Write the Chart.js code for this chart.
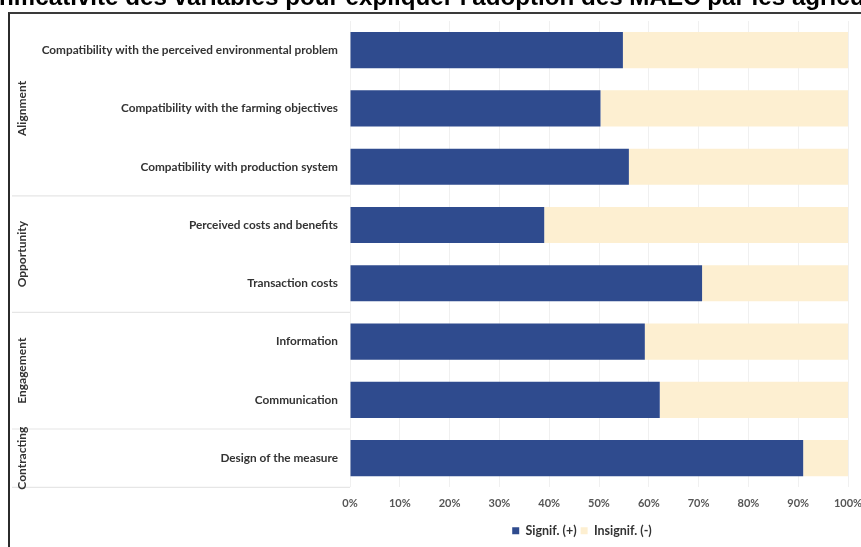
<!DOCTYPE html>
<html>
<head>
<meta charset="utf-8">
<script src="https://cdn.jsdelivr.net/npm/chart.js@4.4.0/dist/chart.umd.min.js"></script>
<style>
  html, body { margin: 0; padding: 0; background: #fff; overflow: hidden; }
  #wrap { position: relative; width: 861px; height: 547px; overflow: hidden; }
  #chart { position: absolute; left: 0; top: 0; }
  #frame { position: absolute; left: 8px; top: 12px; width: 900px; height: 600px;
           border-left: 2px solid #2b2b2b; border-top: 2px solid #3a3a3a; }
  #title { position: absolute; top: 0; white-space: nowrap; font-family: "Liberation Sans", Arial, sans-serif;
           font-weight: bold; color: #000; line-height: 1; }
</style>
</head>
<body>
<div id="wrap">
  <div id="frame"></div>
  <canvas id="chart" width="861" height="547"></canvas>
  <div id="title">Significativité des variables pour expliquer l'adoption des MAEC par les agriculteurs</div>
</div>
<script>
  // data
  var categories = [
    "Compatibility with the perceived environmental problem",
    "Compatibility with the farming objectives",
    "Compatibility with production system",
    "Perceived costs and benefits",
    "Transaction costs",
    "Information",
    "Communication",
    "Design of the measure"
  ];
  var signif = [54.8, 50.3, 56, 39, 70.7, 59.2, 62.2, 91];
  var insignif = [45.2, 49.7, 44, 61, 29.3, 40.8, 37.8, 9];
  var xTicks = [0, 10, 20, 30, 40, 50, 60, 70, 80, 90, 100];

  var groupNames = ["Alignment", "Opportunity", "Engagement", "Contracting"];
  var groupFirst = [0, 3, 5, 7];
  var groupLast = [2, 4, 6, 7];

  var NAVY = "#2f4b8e";
  var BEIGE = "#fdefd1";
  var LABEL_FONT = "Lato";

  // title: clipped on both sides like the screenshot
  var title = document.getElementById("title");
  (function () {
    var c = document.createElement("canvas").getContext("2d");
    c.font = 'bold 20px "Liberation Sans"';
    var visible = c.measureText("nificativité des variables pour expliquer l'adoption des MAEC par les agricu").width;
    var size = 20 * 866 / visible;
    c.font = 'bold ' + size + 'px "Liberation Sans"';
    title.style.fontSize = size + "px";
    title.style.left = (-c.measureText("Sig").width - 1) + "px";
    title.style.top = (6.5 - size * 0.9) + "px";
  })();

  var groupPlugin = {
    id: "groups",
    afterLayout: function (chart) {
      // legend sits under the bars, not under the whole figure
      var lg = chart.legend;
      lg.left = chart.chartArea.left - 34;
      lg.right = chart.chartArea.right;
    },
    afterDraw: function (chart) {
      var ctx = chart.ctx;
      var y = chart.scales.y;
      var half = (y.getPixelForValue(1) - y.getPixelForValue(0)) / 2;
      ctx.save();
      for (var i = 0; i < groupNames.length; i++) {
        var top = y.getPixelForValue(groupFirst[i]) - half;
        var bottom = y.getPixelForValue(groupLast[i]) + half;
        ctx.strokeStyle = "#e6e6e6";
        ctx.lineWidth = 1.2;
        ctx.beginPath();
        ctx.moveTo(12, bottom);
        ctx.lineTo(chart.chartArea.left, bottom);
        ctx.stroke();
        ctx.save();
        ctx.translate(22, (top + bottom) / 2);
        ctx.rotate(-Math.PI / 2);
        ctx.fillStyle = "#333";
        ctx.font = "bold 12px " + LABEL_FONT;
        ctx.textAlign = "center";
        ctx.textBaseline = "middle";
        ctx.fillText(groupNames[i], 0, 0);
        ctx.restore();
      }
      ctx.restore();
    }
  };

  var chart = new Chart(document.getElementById("chart").getContext("2d"), {
    type: "bar",
    data: {
      labels: categories,
      datasets: [
        {
          label: "Signif. (+)",
          data: signif,
          backgroundColor: NAVY,
          borderWidth: 0,
          barPercentage: 0.62,
          categoryPercentage: 1
        },
        {
          label: "Insignif. (-)",
          data: insignif,
          backgroundColor: BEIGE,
          borderWidth: 0,
          barPercentage: 0.62,
          categoryPercentage: 1
        }
      ]
    },
    options: {
      indexAxis: "y",
      responsive: false,
      animation: false,
      layout: { padding: { top: 21, right: 13, bottom: 0, left: 0 } },
      plugins: {
        title: { display: false },
        tooltip: { enabled: false },
        legend: {
          position: "bottom",
          labels: {
            boxWidth: 7,
            boxHeight: 7,
            padding: 4,
            color: "#333",
            font: { family: LABEL_FONT, weight: "bold", size: 12.5 }
          }
        }
      },
      scales: {
        x: {
          stacked: true,
          min: 0,
          max: 100,
          afterBuildTicks: function (s) {
            s.ticks = xTicks.map(function (v) { return { value: v }; });
          },
          afterFit: function (s) {
            s.paddingLeft = 0;
            s.paddingRight = 0;
          },
          ticks: {
            maxRotation: 0,
            padding: 10,
            color: "#555",
            font: { family: LABEL_FONT, weight: "bold", size: 11 },
            callback: function (v) { return v + "%"; }
          },
          grid: { color: "#f0f0f0", drawTicks: false },
          border: { display: false }
        },
        y: {
          stacked: true,
          afterFit: function (s) { s.width = 350; },
          ticks: {
            padding: 4,
            color: "#333",
            font: { family: LABEL_FONT, weight: "bold", size: 11.8 }
          },
          grid: { display: false },
          border: { display: false }
        }
      }
    },
    plugins: [groupPlugin]
  });
</script>
</body>
</html>
